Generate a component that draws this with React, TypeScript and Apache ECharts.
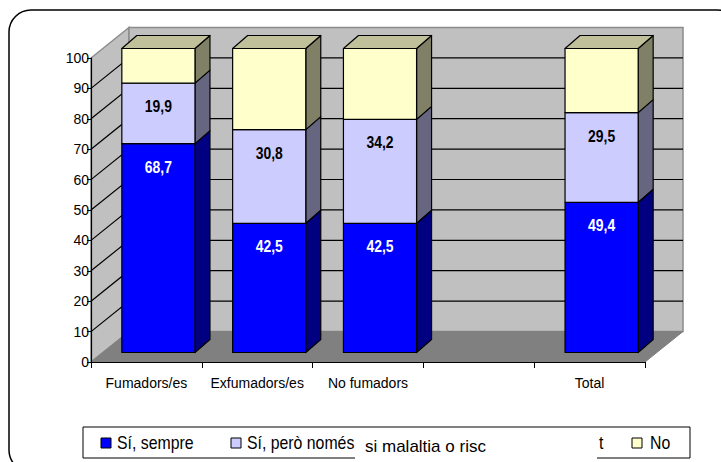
import React, { useEffect, useRef } from "react";
import * as echarts from "echarts";

const categories = ["Fumadors/es", "Exfumadors/es", "No fumadors", "", "Total"];
const siSempre = [68.7, 42.5, 42.5, null, 49.4];
const siPeroNomes = [19.9, 30.8, 34.2, null, 29.5];
const no = [11.4, 26.7, 23.3, null, 21.1];
const yTicks = [0, 10, 20, 30, 40, 50, 60, 70, 80, 90, 100];
const legendNames = ["Sí, sempre", "Sí, però només", "No"];
const overlayText = "si malaltia o risc";

const ARIAL = "'Liberation Sans', Arial, sans-serif";

const WALL_DX = 38;
const WALL_DY = -30.5;
const BAR_DX = 12;
const BAR_DY = -9.5;
const DEP_DX = 15;
const DEP_DY = -13;

const segStyles = [
  { front: "#0000FF", side: "#000080", top: "#0000C0", label: "#FFFFFF" },
  { front: "#CCCCFF", side: "#666680", top: "#A3A3CC", label: "#000000" },
  { front: "#FFFFCC", side: "#808066", top: "#C0C09A", label: "#000000" },
];

function fmt(v: number) {
  return v.toFixed(1).replace(".", ",");
}

export default function App() {
  const ref = useRef<HTMLDivElement>(null);
  useEffect(() => {
    if (!ref.current) return;
    const chart = echarts.init(ref.current, undefined, { renderer: "svg" });
    const segs = [siSempre, siPeroNomes, no];

    const barSeries = segs.map((arr, si) => {
      const data: any[] = [];
      arr.forEach((v, i) => {
        if (v == null) return;
        let base = 0;
        for (let k = 0; k < si; k++) base += (segs[k][i] as number) || 0;
        data.push([i, base, base + v, v]);
      });
      const st = segStyles[si];
      const isTop = si === segs.length - 1;
      const showLabel = si < 2;
      return {
        type: "custom",
        name: legendNames[si],
        z: 3 + si,
        clip: false,
        silent: true,
        encode: { x: 0, y: [1, 2] },
        data,
        renderItem: (params: any, api: any) => {
          const cat = api.value(0);
          const b = api.value(1);
          const t = api.value(2);
          const val = api.value(3);
          const pb = api.coord([cat, b]);
          const pt = api.coord([cat, t]);
          const w = api.size([1, 0])[0] * 0.66;
          const xl = pb[0] - w / 2 + BAR_DX;
          const xr = xl + w;
          const yb = pb[1] + BAR_DY;
          const yt = pt[1] + BAR_DY;
          const lineStyle = { stroke: "#000", lineWidth: 1.2, lineJoin: "round" };
          const children: any[] = [
            {
              type: "polygon",
              shape: {
                points: [
                  [xr, yt],
                  [xr + DEP_DX, yt + DEP_DY],
                  [xr + DEP_DX, yb + DEP_DY],
                  [xr, yb],
                ],
              },
              style: { fill: st.side, ...lineStyle },
            },
            {
              type: "rect",
              shape: { x: xl, y: yt, width: w, height: yb - yt },
              style: { fill: st.front, ...lineStyle },
            },
          ];
          if (isTop) {
            children.push({
              type: "polygon",
              shape: {
                points: [
                  [xl, yt],
                  [xl + DEP_DX, yt + DEP_DY],
                  [xr + DEP_DX, yt + DEP_DY],
                  [xr, yt],
                ],
              },
              style: { fill: st.top, ...lineStyle },
            });
          }
          if (showLabel) {
            children.push({
              type: "text",
              x: (xl + xr) / 2,
              y: yt + 23,
              scaleX: 0.82,
              style: {
                text: fmt(val),
                fill: st.label,
                fontSize: 17,
                fontWeight: "bold",
                fontFamily: ARIAL,
                align: "center",
                verticalAlign: "middle",
              },
            });
          }
          return { type: "group", children };
        },
      };
    });

    const wallSeries = {
      type: "custom",
      z: 1,
      silent: true,
      clip: false,
      encode: { x: 0, y: 1 },
      data: [[0, 0]],
      renderItem: (params: any, api: any) => {
        const cs = params.coordSys;
        const x0 = cs.x;
        const x1 = cs.x + cs.width;
        const y0 = api.coord([0, 0])[1];
        const y100 = api.coord([0, 100])[1];
        const children: any[] = [
          {
            type: "polygon",
            shape: {
              points: [
                [x0, y100],
                [x0 + WALL_DX, y100 + WALL_DY],
                [x0 + WALL_DX, y0 + WALL_DY],
                [x0, y0],
              ],
            },
            style: { fill: "#C0C0C0", stroke: "#8C8C8C", lineWidth: 1.5 },
          },
          {
            type: "rect",
            shape: { x: x0 + WALL_DX, y: y100 + WALL_DY, width: x1 - x0, height: y0 - y100 },
            style: { fill: "#C0C0C0", stroke: "#8C8C8C", lineWidth: 1.5 },
          },
          {
            type: "polygon",
            shape: {
              points: [
                [x0, y0],
                [x1, y0],
                [x1 + WALL_DX, y0 + WALL_DY],
                [x0 + WALL_DX, y0 + WALL_DY],
              ],
            },
            style: { fill: "#808080", stroke: "#808080", lineWidth: 1 },
          },
        ];
        yTicks.forEach((v) => {
          if (v === 0 || v === 100) return;
          const y = api.coord([0, v])[1];
          children.push({
            type: "polyline",
            shape: {
              points: [
                [x0, y],
                [x0 + WALL_DX, y + WALL_DY],
                [x1 + WALL_DX, y + WALL_DY],
              ],
            },
            style: { stroke: "#000", lineWidth: 1.2, fill: null },
          });
        });
        return { type: "group", children };
      },
    };

    const ly = 443;
    const legText = (text: string, x: number) => ({
      type: "text",
      x,
      y: ly,
      scaleX: 0.88,
      style: { text, fontSize: 18, fontFamily: ARIAL, fill: "#000", verticalAlign: "middle" },
      z: 11,
    });
    const legBox = (x: number, fill: string) => ({
      type: "rect",
      shape: { x, y: ly - 5, width: 10, height: 10 },
      style: { fill, stroke: "#000", lineWidth: 1 },
      z: 11,
    });
    const graphic: any[] = [
      {
        type: "rect",
        shape: { x: 9, y: 10, width: 730, height: 462, r: 22 },
        style: { fill: "none", stroke: "#000", lineWidth: 1.5 },
        z: 0,
      },
      {
        type: "rect",
        shape: { x: 83, y: 427, width: 607, height: 31 },
        style: { fill: "#fff", stroke: "#000", lineWidth: 1 },
        z: 10,
      },
      legBox(101, segStyles[0].front),
      legText(legendNames[0], 117),
      legBox(231, segStyles[1].front),
      legText(legendNames[1], 247),
      {
        type: "rect",
        shape: { x: 355, y: 433, width: 242, height: 30 },
        style: { fill: "#fff", stroke: "none" },
        z: 12,
      },
      {
        type: "text",
        x: 365,
        y: 446,
        style: { text: overlayText, fontSize: 17, fontFamily: ARIAL, fill: "#000", verticalAlign: "middle" },
        z: 13,
      },
      legText("t", 599),
      legBox(632, segStyles[2].front),
      legText(legendNames[2], 650),
    ];

    chart.setOption({
      animation: false,
      backgroundColor: "#fff",
      grid: { left: 91, right: 76, top: 58, bottom: 100, containLabel: false },
      xAxis: {
        type: "category",
        data: categories,
        boundaryGap: true,
        z: 8,
        axisLine: { show: true, lineStyle: { color: "#000", width: 1.2 } },
        axisTick: { show: true, length: 6, lineStyle: { color: "#000" } },
        axisLabel: { color: "#000", fontSize: 14, fontFamily: ARIAL, margin: 14, interval: 0 },
        splitLine: { show: false },
      },
      yAxis: {
        type: "value",
        min: 0,
        max: 100,
        interval: 10,
        z: 8,
        axisLine: { show: true, lineStyle: { color: "#000", width: 1.2 } },
        axisTick: { show: true, length: 4, lineStyle: { color: "#000" } },
        axisLabel: { color: "#000", fontSize: 14, fontFamily: ARIAL, margin: 2 },
        splitLine: { show: false },
      },
      graphic,
      series: [wallSeries, ...barSeries],
    });
    return () => chart.dispose();
  }, []);
  return (
    <div
      ref={ref}
      style={{ position: "absolute", left: 0, top: 0, width: 721, height: 462, background: "#fff" }}
    />
  );
}
